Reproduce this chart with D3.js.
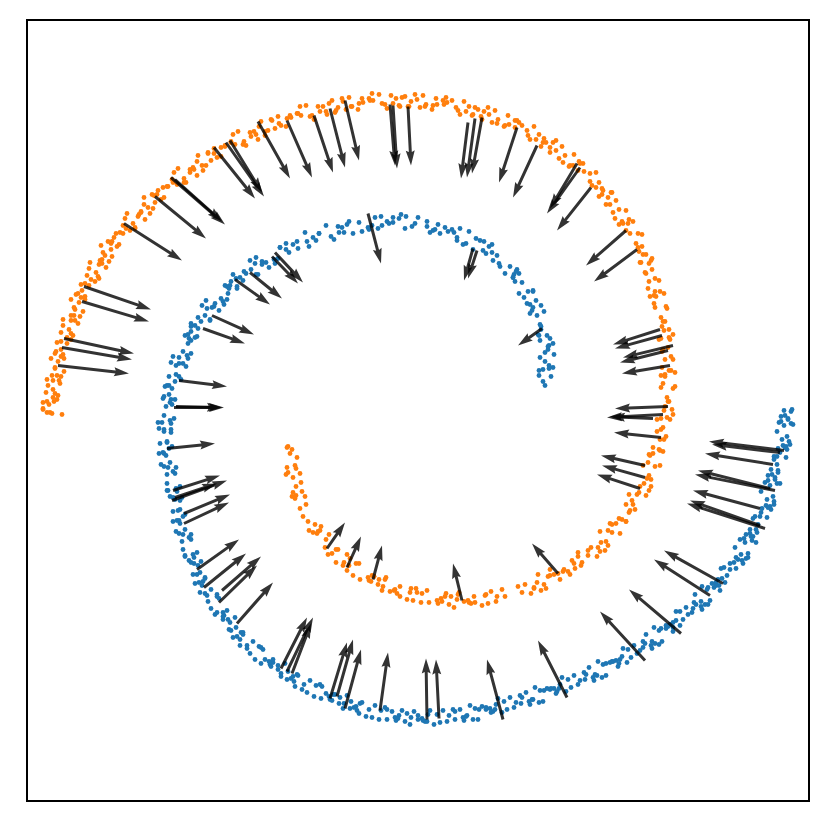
<!DOCTYPE html>
<meta charset="utf-8">
<head>
<script src="https://d3js.org/d3.v7.min.js"></script>
<style>
  body { margin: 0; background: #fff; }
  svg { display: block; }
</style>
</head>
<body>
<svg id="chart" width="830" height="830"></svg>
<script>
// class 0 (orange) samples, [x, y]
var orangePoints = [
  [-36.6,-0.3],[-37.5,0.2],[-36.9,0.6],[-37.1,-0.2],[-35.6,-0.4],
  [-36.1,1.1],[-37.5,0.8],[-36.5,1.3],[-37.1,0.9],
  [-36.5,2.1],[-35.9,3.0],[-37.1,3.1],[-36.3,1.7],
  [-36.3,4.3],[-35.7,3.4],[-36.6,3.5],[-35.4,3.9],
  [-35.4,5.2],[-36.3,5.7],[-35.7,6.1],[-36.0,4.9],
  [-34.7,7.1],[-36.1,6.8],[-35.1,7.3],[-35.7,6.9],
  [-34.9,8.1],[-34.3,9.0],[-35.5,9.1],[-34.7,7.7],
  [-34.4,10.3],[-33.8,9.4],[-34.7,9.5],[-33.5,9.9],
  [-33.3,11.1],[-34.2,11.6],[-33.6,12.0],[-33.9,10.8],
  [-32.3,12.9],[-33.7,12.6],[-32.7,13.1],[-33.3,12.7],
  [-32.2,13.8],[-31.6,14.7],[-32.8,14.8],[-32.0,13.4],
  [-31.5,15.8],[-30.9,14.9],[-31.8,15.0],[-30.6,15.4],
  [-30.1,16.4],[-31.0,16.9],[-30.4,17.3],[-30.7,16.1],
  [-28.8,18.0],[-30.2,17.7],[-29.2,18.2],[-29.8,17.8],
  [-28.5,18.7],[-27.9,19.6],[-29.1,19.7],[-28.3,18.3],
  [-27.4,20.6],[-26.8,19.7],[-27.7,19.8],[-26.5,20.2],
  [-25.7,21.1],[-26.6,21.6],[-26.0,22.0],[-26.3,20.8],
  [-24.1,22.6],[-25.5,22.3],[-24.5,22.8],[-25.1,22.4],
  [-23.4,23.2],[-22.8,24.1],[-24.0,24.2],[-23.2,22.8],
  [-22.1,24.9],[-21.5,24.0],[-22.4,24.1],[-21.2,24.5],
  [-20.1,25.3],[-21.0,25.8],[-20.4,26.2],[-20.7,25.0],
  [-18.3,26.6],[-19.7,26.3],[-18.7,26.8],[-19.3,26.4],
  [-17.4,26.9],[-16.8,27.8],[-18.0,27.9],[-17.2,26.5],
  [-15.9,28.4],[-15.3,27.5],[-16.2,27.6],[-15.0,28.0],
  [-13.7,28.5],[-14.6,29.0],[-14.0,29.4],[-14.3,28.2],
  [-11.7,29.5],[-13.1,29.2],[-12.1,29.7],[-12.7,29.3],
  [-10.6,29.5],[-10.0,30.4],[-11.2,30.5],[-10.4,29.1],
  [-8.9,30.7],[-8.3,29.8],[-9.2,29.9],[-8.0,30.3],
  [-6.6,30.4],[-7.5,30.9],[-6.9,31.3],[-7.2,30.1],
  [-4.5,31.0],[-5.9,30.7],[-4.9,31.2],[-5.5,30.8],
  [-3.3,30.6],[-2.7,31.5],[-3.9,31.6],[-3.1,30.2],
  [-1.6,31.3],[-1.0,30.4],[-1.9,30.5],[-0.7,30.9],
  [0.8,30.6],[-0.1,31.1],[0.5,31.5],[0.2,30.3],
  [2.9,30.8],[1.5,30.5],[2.5,31.0],[1.9,30.6],
  [4.0,30.0],[4.6,30.9],[3.4,31.0],[4.2,29.6],
  [5.7,30.3],[6.3,29.4],[5.4,29.5],[6.6,29.9],
  [8.0,29.1],[7.1,29.6],[7.7,30.0],[7.4,28.8],
  [10.1,28.8],[8.7,28.5],[9.7,29.0],[9.1,28.6],
  [11.0,27.5],[11.6,28.4],[10.4,28.5],[11.2,27.1],
  [12.6,27.2],[13.2,26.3],[12.3,26.4],[13.5,26.8],
  [14.7,25.5],[13.8,26.0],[14.4,26.4],[14.1,25.2],
  [16.5,24.7],[15.1,24.4],[16.1,24.9],[15.5,24.5],
  [17.2,22.9],[17.8,23.8],[16.6,23.9],[17.4,22.5],
  [18.4,22.2],[19.0,21.3],[18.1,21.4],[19.3,21.8],
  [20.1,20.1],[19.2,20.6],[19.8,21.0],[19.5,19.8],
  [21.5,18.9],[20.1,18.6],[21.1,19.1],[20.5,18.7],
  [21.8,16.7],[22.4,17.6],[21.2,17.7],[22.0,16.3],
  [22.5,15.6],[23.1,14.7],[22.2,14.8],[23.4,15.2],
  [23.7,13.2],[22.8,13.7],[23.4,14.1],[23.1,12.9],
  [24.6,11.7],[23.2,11.4],[24.2,11.9],[23.6,11.5],
  [24.3,9.3],[24.9,10.2],[23.7,10.3],[24.5,8.9],
  [24.6,8.0],[25.2,7.1],[24.3,7.2],[25.5,7.6],
  [25.3,5.4],[24.4,5.9],[25.0,6.3],[24.7,5.1],
  [25.7,3.8],[24.3,3.5],[25.3,4.0],[24.7,3.6],
  [24.9,1.3],[25.5,2.2],[24.3,2.3],[25.1,0.9],
  [24.6,0.0],[25.2,-0.9],[24.3,-0.8],[25.5,-0.4],
  [24.8,-2.6],[23.9,-2.1],[24.5,-1.7],[24.2,-2.9],
  [24.5,-4.1],[23.1,-4.4],[24.1,-3.9],[23.5,-4.3],
  [23.1,-6.5],[23.7,-5.6],[22.5,-5.5],[23.3,-6.9],
  [22.2,-7.6],[22.8,-8.5],[21.9,-8.4],[23.1,-8.0],
  [21.7,-9.9],[20.8,-9.4],[21.4,-9.0],[21.1,-10.2],
  [20.8,-11.1],[19.4,-11.4],[20.4,-10.9],[19.8,-11.3],
  [18.8,-13.1],[19.4,-12.2],[18.2,-12.1],[19.0,-13.5],
  [17.3,-13.7],[17.9,-14.6],[17.0,-14.5],[18.2,-14.1],
  [16.3,-15.5],[15.4,-15.0],[16.0,-14.6],[15.7,-15.8],
  [15.0,-16.1],[13.6,-16.4],[14.6,-15.9],[14.0,-16.3],
  [12.6,-17.4],[13.2,-16.5],[12.0,-16.4],[12.8,-17.8],
  [10.7,-17.4],[11.3,-18.3],[10.4,-18.2],[11.6,-17.8],
  [8.7,-18.6],
  [6.7,-18.5],[7.3,-18.1],[7.0,-19.3],[7.9,-18.6],
  [4.6,-19.1],[5.6,-18.6],[5.0,-19.0],[5.3,-19.3],
  [4.0,-18.4],[2.8,-18.3],[3.6,-19.7],[3.3,-18.6],
  [2.0,-19.3],[1.1,-19.2],[2.3,-18.8],[1.9,-19.0],
  [-0.8,-18.2],[-0.2,-17.8],[-0.5,-19.0],[0.4,-18.3],
  [-2.8,-18.1],[-1.8,-17.6],[-2.4,-18.0],[-2.1,-18.3],
  [-3.2,-16.7],[-4.4,-16.6],[-3.6,-18.0],[-3.9,-16.9],
  [-4.9,-17.0],[-5.8,-16.9],[-4.6,-16.5],[-5.0,-16.7],
  [-7.4,-15.2],[-6.8,-14.8],[-7.1,-16.0],[-6.2,-15.3],
  [-9.0,-14.4],[-8.0,-13.9],[-8.6,-14.3],
  [-8.9,-12.4],[-10.1,-12.3],[-9.3,-13.7],
  [-10.0,-12.1],[-10.9,-12.0],[-9.7,-11.6],
  [-11.8,-9.8],[-11.2,-9.4],[-11.5,-10.6],
  [-12.6,-8.6],[-11.6,-8.1],[-12.2,-8.5],
  [-11.8,-6.3],[-13.0,-6.2],[-12.2,-7.6],
  [-12.2,-5.8],[-13.1,-5.7],[-12.3,-5.5],
  [-13.0,-3.6],[-12.6,-3.9],[-12.8,-4.3],
  // between the samples above
  [-36.4,0.9],[-37.5,0.1],[-36.8,-0.2],[-37.0,2.5],[-36.0,1.5],[-37.2,1.8],
  [-36.1,3.5],[-36.5,3.0],[-35.8,2.7],[-36.7,5.2],[-35.7,5.4],[-36.3,4.2],
  [-35.1,6.7],[-36.2,5.9],[-35.5,5.6],[-35.5,8.5],[-34.5,7.5],[-35.7,7.8],
  [-34.4,9.5],[-34.7,9.0],[-34.0,8.7],[-34.7,11.1],[-33.7,11.3],[-34.3,10.1],
  [-32.9,12.5],[-34.0,11.7],[-33.3,11.4],[-32.9,14.2],[-31.9,13.2],[-33.1,13.5],
  [-31.6,15.1],[-31.9,14.6],[-31.2,14.3],[-31.7,16.5],[-30.7,16.7],[-31.3,15.5],
  [-29.5,17.7],[-30.6,16.9],[-29.9,16.6],[-29.3,19.2],[-28.3,18.2],[-29.5,18.5],
  [-27.7,19.9],[-28.0,19.4],[-27.3,19.1],[-27.4,21.3],[-26.4,21.5],[-27.0,20.3],
  [-25.0,22.4],[-26.1,21.6],[-25.4,21.3],[-24.4,23.8],[-23.4,22.8],[-24.6,23.1],
  [-22.5,24.3],[-22.8,23.8],[-22.1,23.5],[-22.0,25.5],[-21.0,25.7],[-21.6,24.5],
  [-19.3,26.5],[-20.4,25.7],[-19.7,25.4],[-18.5,27.6],[-17.5,26.6],[-18.7,26.9],
  [-16.4,27.9],[-16.7,27.4],[-16.0,27.1],[-15.7,28.9],[-14.7,29.1],[-15.3,27.9],
  [-12.8,29.5],[-13.9,28.7],[-13.2,28.4],[-11.8,30.4],[-10.8,29.4],[-12.0,29.7],
  [-9.5,30.4],[-9.8,29.9],[-9.1,29.6],[-8.6,31.0],[-7.6,31.2],[-8.2,30.0],
  [-5.6,31.2],[-6.7,30.4],[-6.0,30.1],[-4.6,31.7],[-3.6,30.7],[-4.8,31.0],
  [-2.2,31.2],[-2.5,30.7],[-1.8,30.4],[-1.3,31.4],[-0.3,31.6],[-0.9,30.4],
  [1.8,31.2],[0.7,30.4],[1.4,30.1],[2.8,31.3],[3.8,30.3],[2.6,30.6],
  [5.1,30.4],[4.8,29.9],[5.5,29.6],[6.0,30.1],[7.0,30.3],[6.4,29.1],
  [9.0,29.5],[7.9,28.7],[8.6,28.4],[9.9,29.0],[10.9,28.0],[9.7,28.3],
  [12.1,27.6],[11.8,27.1],[12.5,26.8],[12.8,26.8],[13.8,27.0],[13.2,25.8],
  [15.6,25.6],[14.5,24.8],[15.2,24.5],[16.2,24.7],[17.2,23.7],[16.0,24.0],
  [18.1,22.8],[17.8,22.3],[18.5,22.0],[18.4,21.6],[19.4,21.8],[18.8,20.6],
  [20.8,20.0],[19.7,19.2],[20.4,18.9],[21.0,18.7],[22.0,17.7],[20.8,18.0],
  [22.4,16.4],[22.1,15.9],[22.8,15.6],[22.3,14.8],[23.3,15.0],[22.7,13.8],
  [24.1,13.0],[23.0,12.2],[23.7,11.9],[23.8,11.4],[24.8,10.4],[23.6,10.7],
  [24.7,8.9],[24.4,8.4],[25.1,8.1],[24.1,7.1],[25.1,7.3],[24.5,6.1],
  [25.5,5.1],[24.4,4.3],[25.1,4.0],[24.7,3.4],[25.7,2.4],[24.5,2.7],
  [25.0,0.9],[24.7,0.4],[25.4,0.1],[23.9,-0.9],[24.9,-0.7],[24.3,-1.9],
  [24.6,-2.9],[23.5,-3.7],[24.2,-4.0],[23.2,-4.5],[24.2,-5.5],[23.0,-5.2],
  [22.9,-6.8],[22.6,-7.3],[23.3,-7.6],[21.1,-8.4],[22.1,-8.2],[21.5,-9.4],
  [21.2,-10.0],[20.1,-10.8],[20.8,-11.1],[19.2,-11.3],[20.2,-12.3],[19.0,-12.0],
  [18.3,-13.2],[18.0,-13.7],[18.7,-14.0],[16.0,-14.2],[17.0,-14.0],[16.4,-15.2],
  [15.6,-15.3],[14.5,-16.1],[15.2,-16.4],[13.2,-15.9],[14.2,-16.9],[13.0,-16.6],
  [11.9,-17.2],[11.6,-17.7],[12.3,-18.0],[10.0,-17.6],[8.4,-17.9],[7.8,-19.1],
  [6.8,-18.4],[5.7,-19.2],[6.4,-19.5],[4.1,-18.2],[5.1,-19.2],[3.9,-18.9],
  [2.7,-18.6],[2.4,-19.1],[3.1,-19.4],[-0.1,-18.2],[0.9,-18.0],[0.3,-19.2],
  [-0.7,-17.8],[-1.8,-18.6],[-1.1,-18.9],[-3.3,-16.9],[-2.3,-17.9],[-3.5,-17.6],
  [-4.4,-16.6],[-4.7,-17.1],[-4.0,-17.4],[-6.9,-15.5],[-5.9,-15.3],[-6.5,-16.5],
  [-7.1,-14.4],[-8.2,-15.2],[-7.5,-15.5],[-9.2,-12.9],[-8.2,-13.9],
  [-10.5,-12.2],[-9.8,-12.0],[-11.0,-11.1],[-10.3,-11.4],[-12.3,-8.8],[-11.3,-8.6],
  [-12.5,-8.2],[-11.7,-7.2],[-13.2,-6.4],[-12.5,-6.7],[-13.1,-3.7],[-12.1,-4.7]
];

// class 1 (blue) samples, [x, y]
var bluePoints = [
  [36.3,-0.6],[37.3,-0.1],[36.7,-0.5],[37.0,-0.8],[37.4,0.1],[36.6,0.0],
  [37.3,-1.3],[36.1,-1.2],[36.9,-2.6],[36.6,-1.5],
  [36.9,-3.9],[36.0,-3.8],[37.2,-3.4],[36.8,-3.6],
  [35.6,-4.6],[36.2,-4.2],[35.9,-5.4],[36.8,-4.7],
  [35.0,-6.5],[36.0,-6.0],[35.4,-6.4],[35.7,-6.7],
  [35.9,-7.3],[34.7,-7.2],[35.5,-8.6],[35.2,-7.5],
  [35.3,-9.9],[34.4,-9.8],[35.6,-9.4],[35.2,-9.6],
  [33.7,-10.6],[34.3,-10.2],[34.0,-11.4],[34.9,-10.7],
  [32.8,-12.4],[33.8,-11.9],[33.2,-12.3],[33.5,-12.6],
  [33.4,-13.0],[32.2,-12.9],[33.0,-14.3],[32.7,-13.2],
  [32.5,-15.3],[31.6,-15.2],[32.8,-14.8],[32.4,-15.0],
  [30.6,-15.7],[31.2,-15.3],[30.9,-16.5],[31.8,-15.8],
  [29.4,-17.3],[30.4,-16.8],[29.8,-17.2],[30.1,-17.5],
  [29.6,-17.7],[28.4,-17.6],[29.2,-19.0],[28.9,-17.9],
  [28.4,-19.9],[27.5,-19.8],[28.7,-19.4],[28.3,-19.6],
  [26.2,-20.1],[26.8,-19.7],[26.5,-20.9],[27.4,-20.2],
  [24.8,-21.5],[25.8,-21.0],[25.2,-21.4],[25.5,-21.7],
  [24.8,-21.8],[23.6,-21.7],[24.4,-23.1],[24.1,-22.0],
  [23.4,-23.8],[22.5,-23.7],[23.7,-23.3],[23.3,-23.5],
  [21.0,-23.9],[21.6,-23.5],[21.3,-24.7],[22.2,-24.0],
  [19.4,-25.1],[20.4,-24.6],[19.8,-25.0],[20.1,-25.3],
  [19.2,-25.2],[18.0,-25.1],[18.8,-26.5],[18.5,-25.4],
  [17.6,-27.0],[16.7,-26.9],[17.9,-26.5],[17.5,-26.7],
  [15.0,-26.9],[15.6,-26.5],[15.3,-27.7],[16.2,-27.0],
  [13.2,-27.9],[14.2,-27.4],[13.6,-27.8],[13.9,-28.1],
  [12.9,-27.8],[11.7,-27.7],[12.5,-29.1],[12.2,-28.0],
  [11.2,-29.4],[10.3,-29.3],[11.5,-28.9],[11.1,-29.1],
  [8.6,-29.1],[9.2,-28.7],[8.9,-29.9],[9.8,-29.2],
  [6.8,-29.9],[7.8,-29.4],[7.2,-29.8],[7.5,-30.1],
  [6.4,-29.6],[5.2,-29.5],[6.0,-30.9],[5.7,-29.8],
  [4.6,-31.0],[3.7,-30.9],[4.9,-30.5],[4.5,-30.7],
  [1.9,-30.4],[2.5,-30.0],[2.2,-31.2],[3.1,-30.5],
  [0.0,-30.9],[1.0,-30.4],[0.4,-30.8],[0.7,-31.1],
  [-0.4,-30.1],[-1.6,-30.0],[-0.8,-31.4],[-1.1,-30.3],
  [-2.2,-31.0],[-3.1,-30.9],[-1.9,-30.5],[-2.3,-30.7],
  [-4.9,-29.9],[-4.3,-29.5],[-4.6,-30.7],[-3.7,-30.0],
  [-6.8,-29.8],[-5.8,-29.3],[-6.4,-29.7],[-6.1,-30.0],
  [-7.1,-28.5],[-8.3,-28.4],[-7.5,-29.8],[-7.8,-28.7],
  [-8.8,-28.9],[-9.7,-28.8],[-8.5,-28.4],[-8.9,-28.6],
  [-11.4,-27.4],[-10.8,-27.0],[-11.1,-28.2],[-10.2,-27.5],
  [-13.1,-26.9],[-12.1,-26.4],[-12.7,-26.8],[-12.4,-27.1],
  [-13.3,-25.3],[-14.5,-25.2],[-13.7,-26.6],[-14.0,-25.5],
  [-14.8,-25.4],[-15.7,-25.3],[-14.5,-24.9],[-14.9,-25.1],
  [-17.1,-23.5],[-16.5,-23.1],[-16.8,-24.3],[-15.9,-23.6],
  [-18.5,-22.7],[-17.5,-22.2],[-18.1,-22.6],[-17.8,-22.9],
  [-18.3,-20.7],[-19.5,-20.6],[-18.7,-22.0],[-19.0,-20.9],
  [-19.4,-20.5],[-20.3,-20.4],[-19.1,-20.0],[-19.5,-20.2],
  [-21.3,-18.3],[-20.7,-17.9],[-21.0,-19.1],[-20.1,-18.4],
  [-22.3,-17.3],[-21.3,-16.8],[-21.9,-17.2],[-21.6,-17.5],
  [-21.7,-15.1],[-22.9,-15.0],[-22.1,-16.4],[-22.4,-15.3],
  [-22.4,-14.7],[-23.3,-14.6],[-22.1,-14.2],[-22.5,-14.4],
  [-23.9,-12.3],[-23.3,-11.9],[-23.6,-13.1],[-22.7,-12.4],
  [-24.5,-11.1],[-23.5,-10.6],[-24.1,-11.0],[-23.8,-11.3],
  [-23.6,-8.7],[-24.8,-8.6],[-24.0,-10.0],[-24.3,-8.9],
  [-24.1,-8.1],[-25.0,-8.0],[-23.8,-7.6],[-24.2,-7.8],
  [-25.4,-5.6],[-24.8,-5.2],[-25.1,-6.4],[-24.2,-5.7],
  [-25.9,-4.3],[-24.9,-3.8],[-25.5,-4.2],[-25.2,-4.5],
  [-24.7,-1.9],[-25.9,-1.8],[-25.1,-3.2],[-25.4,-2.1],
  [-24.7,-1.3],[-25.6,-1.2],[-24.4,-0.8],[-24.8,-1.0],
  [-25.5,1.2],[-24.9,1.6],[-25.2,0.4],[-24.3,1.1],
  [-25.3,2.4],[-24.3,2.9],[-24.9,2.5],[-24.6,2.2],
  [-23.5,4.7],[-24.7,4.8],[-23.9,3.4],[-24.2,4.5],
  [-23.0,5.2],[-23.9,5.3],[-22.7,5.7],[-23.1,5.5],
  [-23.3,7.5],[-22.7,7.9],[-23.0,6.7],[-22.1,7.4],
  [-22.7,8.4],[-21.7,8.9],[-22.3,8.5],[-22.0,8.2],
  [-20.4,10.4],[-21.6,10.5],[-20.8,9.1],[-21.1,10.2],
  [-19.4,10.6],[-20.3,10.7],[-19.1,11.1],[-19.5,10.9],
  [-19.3,12.5],[-18.7,12.9],[-19.0,11.7],[-18.1,12.4],
  [-18.2,13.2],[-17.2,13.7],[-17.8,13.3],[-17.5,13.0],
  [-15.6,14.9],[-16.8,15.0],[-16.0,13.6],[-16.3,14.7],
  [-14.3,14.7],[-15.2,14.8],[-14.0,15.2],
  [-12.9,15.8],[-13.8,16.3],[-13.2,16.7],
  [-12.0,16.2],[-11.1,16.9],[-12.5,16.6],
  [-9.9,17.7],[-10.5,17.3],[-10.2,17.0],
  [-8.0,18.4],[-9.2,18.5],[-8.4,17.1],
  [-7.1,18.6],[-6.5,17.7],[-7.4,17.8],
  [-4.6,18.5],[-5.0,18.3],[-5.9,18.8],
  [-3.7,19.4],[-4.0,18.2],[-3.1,18.9],
  [-2.9,18.7],[-1.9,19.2],[-2.5,18.8],
  [-0.6,18.4],[0.0,19.3],[-1.2,19.4],
  [1.2,17.8],[0.9,18.9],[1.5,18.0],
  [2.2,17.7],[3.4,18.1],[3.0,17.9],
  [3.6,17.8],[4.2,18.2],[3.9,17.0],
  [6.2,17.0],[4.8,16.7],[5.8,17.2],
  [6.5,16.0],[6.8,15.7],[7.4,16.6],
  [7.4,15.8],[8.2,14.4],[7.9,15.5],
  [9.6,13.6],[8.7,13.7],[9.9,14.1],
  [10.4,12.8],[9.5,13.3],[10.1,13.7],
  [10.6,11.3],[11.5,12.0],[10.1,11.7],
  [11.8,11.0],[11.2,10.6],[11.5,10.3],
  [12.6,9.9],[11.4,10.0],[12.2,8.6],
  [12.3,8.4],[12.9,7.5],[12.0,7.6],
  [13.5,6.7],[13.1,6.5],[12.2,7.0],
  [13.0,6.1],[12.7,4.9],[13.6,5.6],
  [12.1,4.0],[13.1,4.5],[12.5,4.1],
  [12.7,2.5],[13.3,3.4],[12.1,3.5],
  // between the samples above
  [37.5,-1.4],[36.3,-1.1],[37.0,-0.9],[36.4,-2.9],[37.1,-3.1],[35.9,-2.1],
  [36.5,-3.5],[35.9,-4.6],[36.7,-3.7],[35.3,-5.9],[36.0,-6.2],[35.6,-4.9],
  [36.2,-7.3],[35.0,-7.0],[35.7,-6.9],[34.9,-8.9],[35.6,-9.1],[34.3,-8.1],
  [34.8,-9.5],[34.2,-10.6],[35.0,-9.7],[33.2,-11.9],[33.9,-12.2],[33.5,-10.8],
  [33.8,-13.2],[32.6,-12.8],[33.3,-12.6],[32.3,-14.4],[33.0,-14.7],[31.7,-13.7],
  [31.8,-14.7],[31.2,-15.9],[32.0,-14.9],[30.0,-16.9],[30.7,-17.2],[30.3,-15.8],
  [30.2,-18.0],[29.0,-17.7],[29.8,-17.5],[28.3,-19.1],[29.0,-19.4],[27.7,-18.4],
  [27.6,-19.2],[27.0,-20.4],[27.8,-19.4],[25.5,-21.2],[26.2,-21.5],[25.8,-20.1],
  [25.5,-22.1],[24.3,-21.8],[25.0,-21.6],[23.4,-23.1],[24.1,-23.4],[22.8,-22.4],
  [22.5,-23.1],[21.9,-24.3],[22.7,-23.3],[20.2,-24.9],[20.9,-25.2],[20.5,-23.8],
  [20.0,-25.6],[18.8,-25.3],[19.5,-25.1],[17.7,-26.4],[18.4,-26.7],[17.1,-25.7],
  [16.6,-26.2],[16.0,-27.4],[16.8,-26.4],[14.1,-27.8],[14.8,-28.1],[14.4,-26.7],
  [13.8,-28.3],[12.6,-28.0],[13.3,-27.8],[11.4,-28.9],[12.1,-29.2],[10.8,-28.2],
  [10.2,-28.5],[9.6,-29.7],[10.4,-28.7],[7.7,-29.9],[8.4,-30.2],[8.0,-28.8],
  [7.3,-30.2],[6.1,-29.9],[6.8,-29.7],[4.8,-30.6],[5.5,-30.9],[4.2,-29.9],
  [3.5,-29.9],[2.9,-31.1],[3.7,-30.1],[0.9,-31.1],[1.6,-31.4],[1.2,-30.0],
  [0.5,-31.0],[-0.7,-30.7],[0.0,-30.5],[-2.0,-30.8],[-1.3,-31.1],[-2.6,-30.1],
  [-3.3,-29.7],[-3.9,-30.9],[-3.1,-29.9],[-5.9,-30.3],[-5.2,-30.6],[-5.6,-29.2],
  [-6.2,-29.6],[-7.4,-29.3],[-6.7,-29.1],[-8.6,-29.0],[-7.9,-29.3],[-9.2,-28.3],
  [-9.8,-27.4],[-10.4,-28.6],[-9.6,-27.6],[-12.3,-27.6],[-11.6,-27.9],[-12.0,-26.5],
  [-12.5,-26.6],[-13.7,-26.3],[-13.0,-26.1],[-14.7,-25.6],[-14.0,-25.9],[-15.3,-24.9],
  [-15.7,-23.7],[-16.3,-24.9],[-15.5,-23.9],[-17.8,-23.5],[-17.1,-23.8],[-17.5,-22.4],
  [-17.7,-22.2],[-18.9,-21.9],[-18.2,-21.7],[-19.5,-20.9],[-18.8,-21.2],[-20.1,-20.2],
  [-20.1,-18.6],[-20.7,-19.8],[-19.9,-18.8],[-21.8,-18.2],[-21.1,-18.5],[-21.5,-17.1],
  [-21.3,-16.7],[-22.5,-16.4],[-21.8,-16.2],[-22.7,-15.2],[-22.0,-15.5],[-23.3,-14.5],
  [-22.9,-12.7],[-23.5,-13.9],[-22.7,-12.9],[-24.2,-12.1],[-23.5,-12.4],[-23.9,-11.0],
  [-23.3,-10.4],[-24.5,-10.1],[-23.8,-9.9],[-24.5,-8.7],[-23.8,-9.0],[-25.1,-8.0],
  [-24.5,-6.1],[-25.1,-7.3],[-24.3,-6.3],[-25.7,-5.4],[-25.0,-5.7],[-25.4,-4.3],
  [-24.6,-3.6],[-25.8,-3.3],[-25.1,-3.1],[-25.4,-1.9],[-24.7,-2.2],[-26.0,-1.2],
  [-24.8,0.8],[-25.4,-0.5],[-24.6,0.6],[-25.4,1.4],[-24.7,1.1],[-25.1,2.5],
  [-23.7,3.1],[-24.9,3.4],[-24.2,3.6],[-23.9,4.7],[-23.2,4.4],[-24.5,5.4],
  [-22.9,7.2],[-23.5,5.9],[-22.7,7.0],[-23.0,7.6],[-22.3,7.3],[-22.7,8.7],
  [-20.8,9.0],[-22.0,9.3],[-21.3,9.5],[-20.6,10.3],[-19.9,10.0],[-21.2,11.0],
  [-19.1,12.4],[-19.7,11.2],[-18.9,12.2],[-18.8,12.5],[-18.1,12.2],[-18.5,13.6],
  [-16.2,13.6],[-17.4,13.9],[-16.7,14.1],[-15.6,14.6],[-14.9,14.3],[-16.2,15.3],
  [-13.8,16.3],[-14.4,15.1],[-12.1,16.9],[-13.2,16.1],[-10.9,16.4],[-11.3,17.8],
  [-8.7,17.4],[-9.9,17.7],[-7.6,18.3],[-7.9,17.8],[-5.6,17.9],[-6.9,18.9],
  [-4.3,19.3],[-4.9,18.1],[-2.5,19.3],[-3.6,18.5],[-1.3,18.2],[-1.7,19.6],
  [0.9,18.4],[-0.3,18.7],[2.0,18.6],[1.7,18.1],[3.9,17.3],[2.7,18.3],
  [5.1,17.9],[4.5,16.6],[6.6,16.9],[5.5,16.1],[7.5,15.0],[7.1,16.4],
  [9.2,14.4],[8.1,14.7],[9.8,13.9],[9.5,13.3],[11.0,11.9],[9.7,12.9],
  [11.5,11.9],[10.9,10.7],[12.3,10.5],[11.2,9.7],[12.3,8.1],[11.9,9.5],
  [13.2,7.2],[12.1,7.5],[13.0,6.4],[12.7,5.8],[13.5,4.3],[12.2,5.3],
  [13.1,4.2],[12.5,2.9]
];

// quiver arrows, [x, y, u, v]
var orangeArrows = [
  [-33.4,12.4,6.7,-2.3],[-33.6,10.9,6.7,-2.0],[-35.4,7.2,7.0,-1.5],[-35.6,6.3,7.0,-1.2],
  [-36.0,4.5,7.1,-0.8],[-29.4,18.7,5.8,-3.7],[-26.3,21.4,5.1,-4.2],[-24.7,23.3,5.4,-4.7],
  [-24.3,23.1,4.7,-4.2],[-20.4,26.3,4.1,-5.1],[-19.2,26.8,3.8,-5.4],[-18.8,27.0,3.2,-5.2],
  [-16.0,28.9,3.2,-5.7],[-13.1,29.0,2.5,-5.7],[-10.4,29.5,1.9,-5.7],[-8.8,30.2,1.5,-5.9],
  [-7.3,31.0,1.4,-6.0],[-2.5,30.5,0.4,-6.3],[-2.8,30.6,0.5,-6.1],[-1.0,30.4,0.3,-5.9],
  [5.0,28.8,-0.7,-5.6],[5.7,29.2,-0.8,-5.9],[6.4,29.3,-1.0,-5.6],[9.9,28.3,-1.8,-5.5],
  [11.9,26.5,-2.4,-5.2],[16.2,24.3,-3.3,-4.6],[15.9,24.7,-2.7,-4.5],[17.3,22.3,-3.4,-4.3],
  [20.8,18.0,-4.0,-3.5],[21.9,16.1,-4.3,-3.2],[24.2,8.1,-4.7,-1.5],[24.4,7.5,-4.7,-1.3],
  [25.5,6.5,-5.0,-1.2],[25.0,6.0,-4.8,-1.2],[25.2,4.5,-4.8,-0.8],[25.0,0.4,-5.3,-0.2],
  [24.5,-0.4,-5.6,-0.3],[23.5,-0.8,-4.3,0.2],[24.3,-2.7,-4.7,0.5],[22.7,-5.5,-4.4,1.0],
  [22.7,-6.7,-4.3,1.2],[22.2,-7.8,-4.3,1.4],[14.0,-16.3,-2.6,3.0],[4.4,-19.0,-0.9,3.7],
  [-4.5,-16.9,0.9,3.4],[-7.1,-15.7,1.4,3.1],[-9.1,-13.8,1.8,2.6]
];

var blueArrows = [
  [-5.0,19.7,1.3,-5.0],[5.5,16.2,-0.9,-3.2],[5.9,16.0,-0.9,-2.8],[12.4,8.2,-2.4,-1.7],
  [-14.3,15.8,2.8,-3.0],[-14.6,15.4,2.6,-2.7],[-16.8,13.8,3.2,-2.6],[-18.3,13.1,3.5,-2.5],
  [-20.6,9.5,4.2,-1.9],[-21.5,8.2,4.2,-1.5],[-23.9,3.0,4.8,-0.6],[-24.4,0.3,5.0,0.0],
  [-24.2,0.4,4.6,-0.1],[-25.1,-3.8,4.8,0.5],[-24.5,-8.0,4.7,1.5],[-24.6,-9.0,5.5,2.0],
  [-24.3,-8.7,4.2,1.4],[-23.4,-10.3,4.6,1.9],[-23.4,-11.3,4.5,2.1],[-22.1,-15.9,4.2,3.0],
  [-21.4,-17.7,4.2,3.4],[-19.6,-18.0,3.9,3.4],[-19.9,-19.2,3.8,3.7],[-18.1,-21.3,3.6,4.1],
  [-13.7,-25.8,2.6,5.1],[-13.1,-26.1,2.6,5.4],[-12.6,-26.3,1.9,5.0],[-8.8,-28.8,1.7,5.6],
  [-8.1,-28.6,1.6,5.7],[-7.3,-29.8,1.6,5.9],[-3.8,-30.0,0.8,5.8],[0.9,-30.9,-0.1,6.1],
  [2.1,-30.8,-0.3,5.9],[8.5,-30.9,-1.6,6.0],[14.9,-28.7,-2.9,5.7],[22.7,-25.0,-4.5,4.9],
  [26.3,-22.3,-5.2,4.4],[30.5,-17.3,-5.9,3.3],[29.2,-18.5,-5.6,3.6],[36.6,-4.0,-7.5,0.9],
  [36.2,-4.2,-6.8,0.8],[35.5,-5.4,-6.8,1.1],[35.7,-8.0,-8.0,1.6],[35.2,-7.8,-7.2,1.8],
  [34.2,-9.8,-6.7,1.8],[34.7,-11.8,-7.8,2.5],[34.2,-11.5,-7.0,2.5]
];

var svg = d3.select("#chart");

var x = d3.scaleLinear().domain([-39.1, 39.1]).range([27, 809]);
var y = d3.scaleLinear().domain([-39.05, 39.05]).range([801, 20]);

svg.append("rect").attr("width", 830).attr("height", 830).attr("fill", "#fff");

svg.append("g").selectAll("circle")
  .data(bluePoints)
  .enter().append("circle")
    .attr("cx", function(d) { return x(d[0]); })
    .attr("cy", function(d) { return y(d[1]); })
    .attr("r", 2.4)
    .attr("fill", "#1f77b4");

svg.append("g").selectAll("circle")
  .data(orangePoints)
  .enter().append("circle")
    .attr("cx", function(d) { return x(d[0]); })
    .attr("cy", function(d) { return y(d[1]); })
    .attr("r", 2.4)
    .attr("fill", "#ff7f0e");

// matplotlib quiver style: shaft 3px, head width 3x, head length 5x, axis length 4.5x
function arrowPath(d) {
  var x0 = x(d[0]), y0 = y(d[1]),
      x1 = x(d[0] + d[2]), y1 = y(d[1] + d[3]);
  var dx = x1 - x0, dy = y1 - y0, L = Math.hypot(dx, dy);
  var ux = dx / L, uy = dy / L;
  var w = 1.5;
  var pts = [[0, -w], [L - 13.5, -w], [L - 15, -3 * w], [L, 0],
             [L - 15, 3 * w], [L - 13.5, w], [0, w]];
  return "M" + pts.map(function(p) {
    return [x0 + ux * p[0] - uy * p[1], y0 + uy * p[0] + ux * p[1]].join(",");
  }).join("L") + "Z";
}

svg.append("g").selectAll("path")
  .data(orangeArrows.concat(blueArrows))
  .enter().append("path")
    .attr("d", arrowPath)
    .attr("fill", "#000")
    .attr("fill-opacity", 0.8);

// frame
svg.append("rect")
  .attr("x", x.range()[0])
  .attr("y", y.range()[1])
  .attr("width", x.range()[1] - x.range()[0])
  .attr("height", y.range()[0] - y.range()[1])
  .attr("fill", "none")
  .attr("stroke", "#000")
  .attr("stroke-width", 1.2)
  .attr("shape-rendering", "crispEdges");
</script>
</body>
